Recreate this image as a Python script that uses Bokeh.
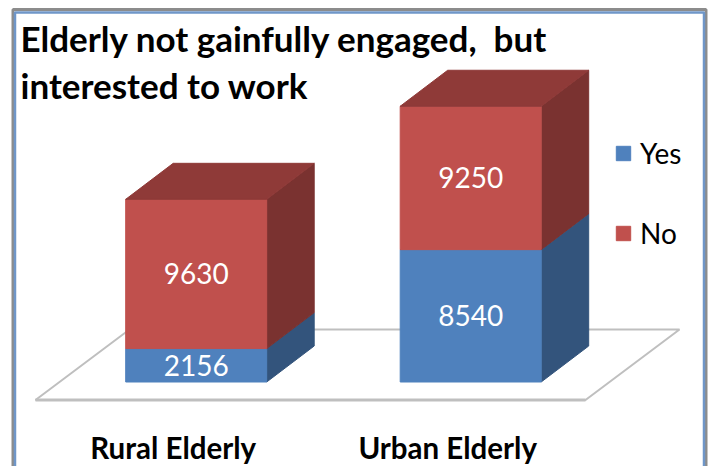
from bokeh.embed import file_html
from bokeh.resources import INLINE
from bokeh.plotting import figure
from bokeh.models import Range1d, Legend, LegendItem
from bokeh.core.properties import value

# ---- data ----
categories = ["Rural Elderly", "Urban Elderly"]
yes_values = [2156, 8540]
no_values = [9630, 9250]
series_names = ["Yes", "No"]
title_lines = ["Elderly not gainfully engaged,\u00a0 but", "interested to work"]

# ---- colours ----
BLUE, BLUE_SIDE = "#4f81bd", "#33547c"
RED, RED_SIDE, RED_TOP = "#c0504d", "#7a3230", "#8f3a38"
GRID = "#bfbfbf"
FONT = "Lato"

# ---- geometry: pixel <-> data helpers (reference image pixels) ----
W, H = 710, 466
PX_PER_CAT = 274.5
CENTRE0 = 195.7
BASE_PX = 381.5
PX_PER_VAL = 0.0155

def X(px):
    return (px - CENTRE0) / PX_PER_CAT

def Y(px):
    return (BASE_PX - px) / PX_PER_VAL

BAR_W = 141 / PX_PER_CAT
DX = 47.5 / PX_PER_CAT
DY = 36 / PX_PER_VAL

p = figure(width=W, height=H, output_backend="svg", toolbar_location=None,
           x_range=Range1d(X(0), X(W)), y_range=Range1d(Y(H), Y(0)),
           min_border=0, outline_line_color=None,
           background_fill_color="white", border_fill_color="white")
p.axis.visible = False
p.grid.visible = False
p.styles = {"position": "absolute", "left": "0px", "top": "0px"}

# window frame
p.line([X(12.5), X(12.5), X(705.5), X(705.5)], [Y(H), Y(9), Y(9), Y(H)],
       line_color="#8c8c8c", line_width=3)
p.line([X(14.5), X(14.5), X(703.5), X(703.5)], [Y(H), Y(12), Y(12), Y(H)],
       line_color="#6f96c8", line_width=2.5)

# floor
fl_x = [X(35), X(585), X(679), X(129)]
fl_y = [Y(399.5), Y(399.5), Y(329), Y(329)]
p.patch(fl_x, fl_y, fill_color="white", line_color=GRID, line_width=2)
p.line([X(35), X(585)], [Y(399.5), Y(399.5)], line_color=GRID, line_width=3)

# 3-D stacked bars, built from the values
legend_renderers = {}
for i, (yv, nv) in enumerate(zip(yes_values, no_values)):
    l, r = i - BAR_W / 2, i + BAR_W / 2
    stack = [(0, yv, BLUE, BLUE_SIDE), (yv, yv + nv, RED, RED_SIDE)]
    for b, t, c, cs in stack:
        p.patch([r, r + DX, r + DX, r], [b, b + DY, t + DY, t], fill_color=cs, line_color=cs)
        rr = p.patch([l, r, r, l], [b, b, t, t], fill_color=c, line_color=c)
        legend_renderers.setdefault(c, rr)
    top = yv + nv
    p.patch([l, r, r + DX, l + DX], [top, top, top + DY, top + DY],
            fill_color=RED_TOP, line_color=RED_TOP)

# value labels
lx, ly, lt = [], [], []
for i, (yv, nv) in enumerate(zip(yes_values, no_values)):
    lx += [i, i]
    ly += [yv / 2, yv + nv / 2]
    lt += [str(yv), str(nv)]
p.text(lx, ly, text=lt, text_color="white", text_font=value(FONT),
       text_font_size="28px", text_align="center", text_baseline="middle")

# category labels (sit left of the bars in the reference)
p.text([i - 23 / PX_PER_CAT for i in range(len(categories))], [Y(447)] * len(categories),
       text=categories, text_color="black", text_font=value(FONT), text_font_style="bold",
       text_font_size="29.5px", text_align="center", text_baseline="middle")

# title
p.text([X(20)] * 2, [Y(37), Y(84)], text=title_lines, text_color="black",
       text_font=value(FONT), text_font_style="bold", text_font_size="35px",
       text_align="left", text_baseline="middle")

# legend
legend = Legend(items=[LegendItem(label=series_names[0], renderers=[legend_renderers[BLUE]]),
                       LegendItem(label=series_names[1], renderers=[legend_renderers[RED]])],
                location=(608, 210), orientation="vertical",
                background_fill_alpha=0, border_line_alpha=0,
                glyph_width=18, glyph_height=18, spacing=46, padding=6, margin=0,
                label_text_font=FONT, label_text_font_size="28px", label_text_color="black",
                label_standoff=8)
p.add_layout(legend, "center")

open("out.html", "w").write(file_html(p, INLINE))
